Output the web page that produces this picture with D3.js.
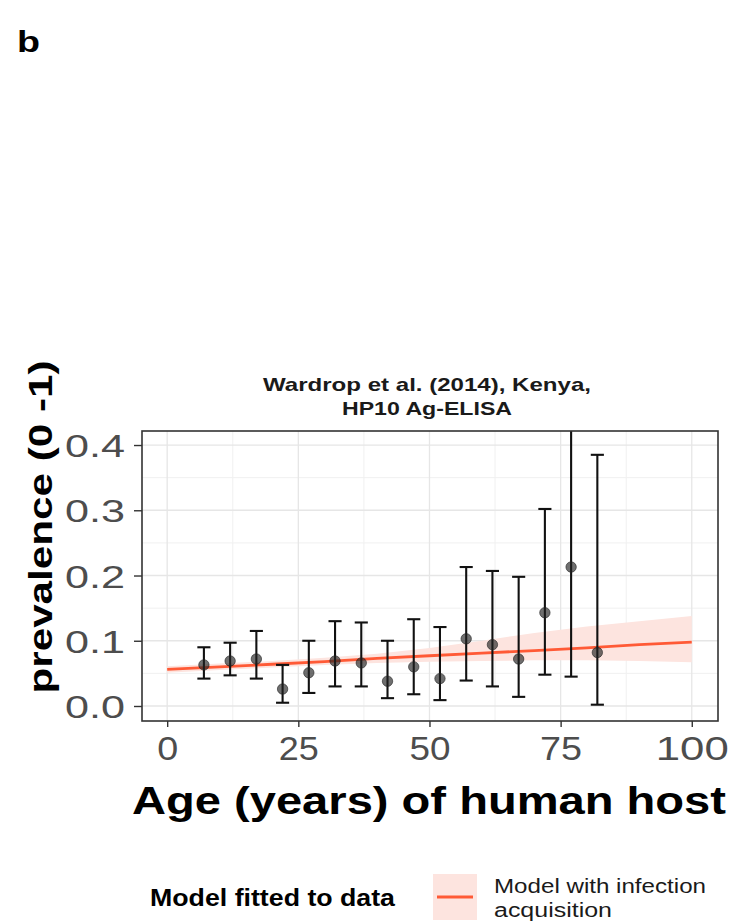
<!DOCTYPE html>
<html>
<head>
<meta charset="utf-8">
<script src="https://cdn.jsdelivr.net/npm/d3@7"></script>
<style>
  html, body { margin: 0; padding: 0; background: #ffffff; }
  svg { display: block; }
  text { font-family: "Liberation Sans", Arial, sans-serif; }
</style>
</head>
<body>
<svg id="chart" width="733" height="923"></svg>
<script>
// ---------------- data ----------------
const ages       = [7, 12, 17, 22, 27, 32, 37, 42, 47, 52, 57, 62, 67, 72, 77, 82];
const prevalence = [0.063, 0.069, 0.072, 0.026, 0.051, 0.069, 0.066, 0.038, 0.060, 0.042, 0.103, 0.094, 0.072, 0.143, 0.213, 0.082];
const lowerCI    = [0.042, 0.047, 0.042, 0.005, 0.020, 0.030, 0.030, 0.012, 0.018, 0.009, 0.039, 0.030, 0.014, 0.048, 0.045, 0.002];
const upperCI    = [0.090, 0.097, 0.115, 0.063, 0.100, 0.130, 0.128, 0.100, 0.133, 0.121, 0.213, 0.207, 0.198, 0.302, 0.560, 0.385];

const modelAge   = [0, 10, 20, 30, 40, 50, 60, 70, 80, 90, 100];
const modelFit   = [0.056, 0.060, 0.064, 0.068, 0.073, 0.077, 0.081, 0.085, 0.089, 0.094, 0.098];
const modelLow   = [0.051, 0.055, 0.059, 0.063, 0.066, 0.068, 0.069, 0.070, 0.070, 0.069, 0.067];
const modelHigh  = [0.061, 0.065, 0.069, 0.074, 0.080, 0.089, 0.100, 0.112, 0.122, 0.130, 0.138];

const xTicks = [0, 25, 50, 75, 100];
const yTicks = [0.0, 0.1, 0.2, 0.3, 0.4];
const titleLines = ["Wardrop et al. (2014), Kenya,", "HP10 Ag-ELISA"];
const panelLabel = "b";
const xTitle = "Age (years) of human host";
const yTitle = "prevalence (0 -1)";
const legendTitle = "Model fitted to data";
const legendLabels = ["Model with infection", "acquisition"];

const xTickWidth = { 0: 21, 25: 40, 50: 41, 75: 42, 100: 73 };
const yTickWidth = 60;
const titleWidths = [328, 170];
const legendLabelWidths = [212, 118];

// ---------------- layout ----------------
const svg = d3.select("#chart");
const P = { left: 142, right: 718, top: 431, bottom: 721 };

const x = d3.scaleLinear().domain([-4.8, 105]).range([P.left, P.right]);
const y = d3.scaleLinear().domain([-0.023, 0.4215]).range([P.bottom, P.top]);

const lineCol = "#ff5a36";
const ribbonCol = "#fde4df";

// panel label
svg.append("text").attr("x", 17).attr("y", 52)
  .attr("font-size", 30).attr("font-weight", "bold").attr("fill", "#000")
  .attr("textLength", 23).attr("lengthAdjust", "spacingAndGlyphs")
  .text(panelLabel);

// title
svg.append("g").selectAll("text").data(titleLines).join("text")
  .attr("x", 427)
  .attr("y", (d, i) => 391 + i * 24)
  .attr("text-anchor", "middle")
  .attr("font-size", 18.5).attr("font-weight", "bold").attr("fill", "#1a1a1a")
  .attr("textLength", (d, i) => titleWidths[i]).attr("lengthAdjust", "spacingAndGlyphs")
  .text(d => d);

// clip
svg.append("clipPath").attr("id", "clip")
  .append("rect").attr("x", P.left).attr("y", P.top)
  .attr("width", P.right - P.left).attr("height", P.bottom - P.top);

// grid
const minorX = [12.5, 37.5, 62.5, 87.5];
const minorY = [0.05, 0.15, 0.25, 0.35];
const grid = svg.append("g");
grid.selectAll(".gxm").data(minorX).join("line")
  .attr("x1", d => x(d)).attr("x2", d => x(d))
  .attr("y1", P.top).attr("y2", P.bottom)
  .attr("stroke", "#f0f0f0").attr("stroke-width", 1);
grid.selectAll(".gym").data(minorY).join("line")
  .attr("y1", d => y(d)).attr("y2", d => y(d))
  .attr("x1", P.left).attr("x2", P.right)
  .attr("stroke", "#f0f0f0").attr("stroke-width", 1);
grid.selectAll(".gx").data(xTicks).join("line")
  .attr("x1", d => x(d)).attr("x2", d => x(d))
  .attr("y1", P.top).attr("y2", P.bottom)
  .attr("stroke", "#e6e6e6").attr("stroke-width", 1.3);
grid.selectAll(".gy").data(yTicks).join("line")
  .attr("y1", d => y(d)).attr("y2", d => y(d))
  .attr("x1", P.left).attr("x2", P.right)
  .attr("stroke", "#e6e6e6").attr("stroke-width", 1.3);

const plot = svg.append("g").attr("clip-path", "url(#clip)");

// ribbon
const model = modelAge.map((a, i) => ({ a, f: modelFit[i], lo: modelLow[i], hi: modelHigh[i] }));
plot.append("path").datum(model)
  .attr("d", d3.area().x(d => x(d.a)).y0(d => y(d.lo)).y1(d => y(d.hi)))
  .attr("fill", ribbonCol);

// model line
plot.append("path").datum(model)
  .attr("d", d3.line().x(d => x(d.a)).y(d => y(d.f)))
  .attr("fill", "none").attr("stroke", lineCol).attr("stroke-width", 2.8);

// error bars
const pts = ages.map((a, i) => ({ a, p: prevalence[i], lo: lowerCI[i], hi: upperCI[i] }));
const capHalf = 1.25;
const eb = plot.append("g").attr("stroke", "#111").attr("stroke-width", 2.1);
eb.selectAll(".v").data(pts).join("line")
  .attr("x1", d => x(d.a)).attr("x2", d => x(d.a))
  .attr("y1", d => y(d.lo)).attr("y2", d => y(d.hi));
eb.selectAll(".t").data(pts).join("line")
  .attr("x1", d => x(d.a - capHalf)).attr("x2", d => x(d.a + capHalf))
  .attr("y1", d => y(d.hi)).attr("y2", d => y(d.hi));
eb.selectAll(".b").data(pts).join("line")
  .attr("x1", d => x(d.a - capHalf)).attr("x2", d => x(d.a + capHalf))
  .attr("y1", d => y(d.lo)).attr("y2", d => y(d.lo));

// points
plot.selectAll(".pt").data(pts).join("circle")
  .attr("cx", d => x(d.a)).attr("cy", d => y(d.p)).attr("r", 5.2)
  .attr("fill", "#222").attr("fill-opacity", 0.65)
  .attr("stroke", "#222").attr("stroke-opacity", 0.6).attr("stroke-width", 1);

// panel border
svg.append("rect").attr("x", P.left).attr("y", P.top)
  .attr("width", P.right - P.left).attr("height", P.bottom - P.top)
  .attr("fill", "none").attr("stroke", "#333333").attr("stroke-width", 1.6);

// axes
const xAxis = svg.append("g").attr("transform", `translate(0,${P.bottom})`)
  .call(d3.axisBottom(x).tickValues(xTicks).tickSize(6).tickPadding(9).tickFormat(d3.format("d")));
const yAxis = svg.append("g").attr("transform", `translate(${P.left},0)`)
  .call(d3.axisLeft(y).tickValues(yTicks).tickSize(8).tickPadding(9).tickFormat(d3.format(".1f")));
[xAxis, yAxis].forEach(g => {
  g.select(".domain").remove();
  g.selectAll(".tick line").attr("stroke", "#333333").attr("stroke-width", 1.4);
  g.selectAll(".tick text").attr("fill", "#4d4d4d")
    .attr("font-family", "'Liberation Sans', Arial, sans-serif")
    .attr("lengthAdjust", "spacingAndGlyphs");
});
xAxis.selectAll(".tick text").attr("font-size", 34)
  .attr("textLength", d => xTickWidth[d]);
yAxis.selectAll(".tick text").attr("font-size", 32).attr("dy", "0.36em")
  .attr("textLength", yTickWidth);

// axis titles
svg.append("text").attr("x", 429).attr("y", 814)
  .attr("text-anchor", "middle").attr("font-size", 39).attr("font-weight", "bold").attr("fill", "#000")
  .attr("textLength", 594).attr("lengthAdjust", "spacingAndGlyphs")
  .text(xTitle);
svg.append("text").attr("transform", "translate(52,527) rotate(-90)")
  .attr("text-anchor", "middle").attr("font-size", 33).attr("font-weight", "bold").attr("fill", "#000")
  .attr("textLength", 333).attr("lengthAdjust", "spacingAndGlyphs")
  .text(yTitle);

// legend
const lg = svg.append("g");
lg.append("text").attr("x", 150).attr("y", 906)
  .attr("font-size", 23).attr("font-weight", "bold").attr("fill", "#000")
  .attr("textLength", 245).attr("lengthAdjust", "spacingAndGlyphs")
  .text(legendTitle);
lg.append("rect").attr("x", 433).attr("y", 874).attr("width", 44).attr("height", 46)
  .attr("fill", ribbonCol);
lg.append("line").attr("x1", 437).attr("x2", 473).attr("y1", 897).attr("y2", 897)
  .attr("stroke", lineCol).attr("stroke-width", 2.8);
lg.selectAll(".ll").data(legendLabels).join("text")
  .attr("x", 494).attr("y", (d, i) => 893 + i * 24)
  .attr("font-size", 20).attr("fill", "#1a1a1a")
  .attr("textLength", (d, i) => legendLabelWidths[i]).attr("lengthAdjust", "spacingAndGlyphs")
  .text(d => d);
</script>
</body>
</html>
